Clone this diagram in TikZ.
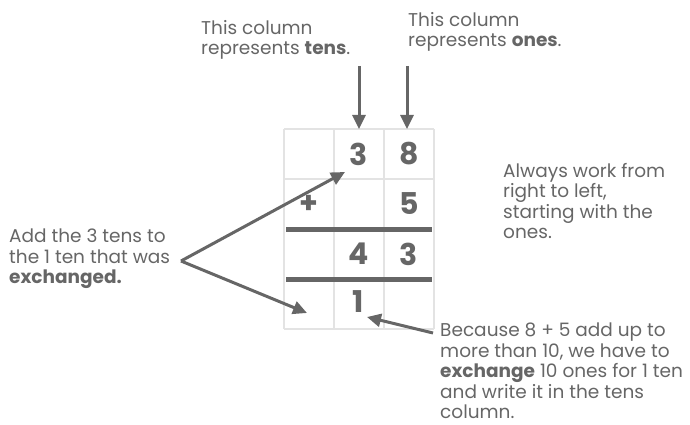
\documentclass[tikz,border=0pt]{standalone}
\usepackage{fontspec}
\setmainfont{Poppins}
\usetikzlibrary{calc}
\usetikzlibrary{arrows.meta}
\usepackage{xcolor}
\definecolor{ink}{HTML}{666666}
\definecolor{cellline}{HTML}{E3E3E3}

\begin{document}
\begin{tikzpicture}[x=1pt, y=-1pt,
 every node/.style={text=ink, font=\fontsize{18.5}{20.5}\selectfont},
 digit/.style={font=\fontsize{30}{30}\selectfont\bfseries},
 note/.style={align=left, anchor=north west, inner sep=0},
 pointer/.style={ink, line width=3, -{Triangle[length=14pt,width=13pt]}}]
\useasboundingbox (0,0) rectangle (690,425);
\foreach \x in {284,334,384,434} {
\draw[cellline, line width=2] (\x,129)--(\x,329);
}
\foreach \y in {129,179,329} {
\draw[cellline, line width=2] (284,\y)--(434,\y);
}
\foreach \y in {229,279} {
\draw[ink, line width=5] (286,\y)--(432,\y);
}
\coordinate (gridtop) at (284,129);
\node[digit] (d3) at (359,154) {3};
\node[digit] (d8) at (409,154) {8};
\node[digit] (plus) at (309,204) {+};
\node[digit] (d5) at (409,204) {5};
\node[digit] (s4) at (359,254) {4};
\node[digit] (s3) at (409,254) {3};
\node[digit] (carry) at (358,302) {1};

\node[note] (tensnote) at (201,20) {This column\\represents \textbf{tens}.};
\node[note] (onesnote) at (408,12) {This column\\represents \textbf{ones}.};
\node[note] (rightnote) at (503,163) {Always work from\\right to left,\\starting with the\\ones.};
\node[note] (leftnote) at (9,229) {Add the 3 tens to\\the 1 ten that was\\\textbf{exchanged.}};
\node[note] (becausenote) at (440,323) {Because 8 + 5 add up to\\more than 10, we have to\\\textbf{exchange} 10 ones for 1 ten\\and write it in the tens\\column.};

\coordinate (tensfoot) at (359,66);
\coordinate (onesfoot) at (407,66);
\draw[pointer] (tensfoot)--(tensfoot |- gridtop);
\draw[pointer] (onesfoot)--(onesfoot |- gridtop);
\coordinate (fork) at (181,261);
\coordinate (tenstip) at (345,172);
\coordinate (carrytip) at (307,313);
\draw[pointer] (fork)--(tenstip);
\draw[pointer] (fork)--(carrytip);
\coordinate (becausefoot) at (433,333);
\coordinate (onetip) at (367,317);
\draw[pointer] (becausefoot)--(onetip);
\end{tikzpicture}
\end{document}
